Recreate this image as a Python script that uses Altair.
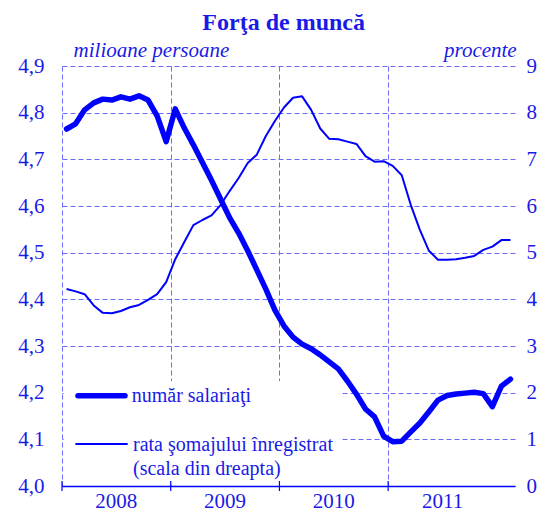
import altair as alt
import pandas as pd

# ---- data ----
years = ["2008", "2009", "2010", "2011"]
# număr salariaţi (milioane persoane), monthly Jan 2008 ...
employees = [4.765, 4.776, 4.806, 4.821, 4.829, 4.827, 4.834, 4.829, 4.836, 4.827, 4.793, 4.738,
             4.808, 4.767, 4.731, 4.693, 4.655, 4.615, 4.575, 4.542, 4.504, 4.463, 4.422, 4.377,
             4.343, 4.319, 4.304, 4.294, 4.281, 4.266, 4.251, 4.225, 4.197, 4.165, 4.148, 4.107,
             4.095, 4.096, 4.116, 4.135, 4.159, 4.184, 4.194, 4.197, 4.199, 4.201, 4.198, 4.170,
             4.214, 4.229]
# rata şomajului înregistrat (procente)
unemployment = [4.22, 4.17, 4.11, 3.87, 3.71, 3.70, 3.75, 3.83, 3.88, 3.99, 4.11, 4.37,
                4.86, 5.23, 5.59, 5.70, 5.80, 6.02, 6.32, 6.60, 6.92, 7.10, 7.50, 7.82,
                8.11, 8.32, 8.35, 8.06, 7.66, 7.44, 7.43, 7.38, 7.33, 7.07, 6.95, 6.96,
                6.86, 6.66, 6.02, 5.49, 5.04, 4.85, 4.85, 4.86, 4.89, 4.93, 5.06, 5.13,
                5.27, 5.27]
left_ticks = [4.0, 4.1, 4.2, 4.3, 4.4, 4.5, 4.6, 4.7, 4.8, 4.9]
right_ticks = [0, 1, 2, 3, 4, 5, 6, 7, 8, 9]

n = len(employees)
df = pd.DataFrame({"t": list(range(n)), "emp": employees, "unemp": unemployment})
bounds_vals = [12 * k - 0.5 for k in range(len(years))]
bounds = pd.DataFrame({"b": bounds_vals})
ydf = pd.DataFrame({"year": years, "c": [12 * k + 5.5 for k in range(len(years))]})
one = pd.DataFrame({"a": [0]})

W, H = 453, 420
BLUE = "#0000FF"
TXT = "#1a1ae6"
GRID = "#6a6aff"
FONT = "Liberation Serif"

xscale = alt.Scale(domain=[-0.5, n - 0.5], nice=False, zero=False)

xaxis = alt.Axis(values=bounds_vals, grid=True, gridColor=GRID, gridDash=[5, 3], gridWidth=1,
                 labels=False, ticks=False, domain=True, domainColor=BLUE, domainWidth=1.5,
                 title=None)
yleft = alt.Axis(orient="left", values=left_ticks, grid=True, gridColor=GRID, gridDash=[5, 3],
                 gridWidth=1, labelExpr="replace(format(datum.value, '.1f'), '.', ',')",
                 labelFont=FONT, labelFontSize=21, labelColor=TXT, labelPadding=18,
                 ticks=False, tickSize=0, domain=False, title=None)
yright = alt.Axis(orient="right", values=right_ticks, grid=False, format="d",
                  labelFont=FONT, labelFontSize=21, labelColor=TXT, labelPadding=11,
                  labelAlign="left", ticks=False, tickSize=0, domain=False, title=None)

base = alt.Chart(df)

thick = base.mark_line(color=BLUE, strokeWidth=5.5, strokeCap="round", strokeJoin="round").encode(
    x=alt.X("t:Q", scale=xscale, axis=xaxis),
    y=alt.Y("emp:Q", scale=alt.Scale(domain=[4.0, 4.9], nice=False, zero=False), axis=yleft),
)
thin = base.mark_line(color=BLUE, strokeWidth=2, strokeJoin="round").encode(
    x=alt.X("t:Q", scale=xscale, axis=xaxis),
    y=alt.Y("unemp:Q", scale=alt.Scale(domain=[0, 9], nice=False, zero=False), axis=yright),
)

box = alt.Chart(one).mark_rect(color="white").encode(
    x=alt.value(1.7), x2=alt.value(277.7), y=alt.value(315), y2=alt.value(419))

ticks = alt.Chart(bounds).mark_rule(color=BLUE, strokeWidth=1.2).encode(
    x=alt.X("b:Q", scale=xscale, axis=xaxis), y=alt.value(H - 5), y2=alt.value(H + 5))

year_text = alt.Chart(ydf).mark_text(font=FONT, fontSize=21, color=TXT, baseline="middle",
                                     align="center").encode(
    x=alt.X("c:Q", scale=xscale, axis=xaxis), y=alt.value(H + 16), text="year:N")

leg1 = alt.Chart(one).mark_rule(color=BLUE, strokeWidth=5.5, strokeCap="round").encode(
    x=alt.value(16), x2=alt.value(63), y=alt.value(329.7))
leg2 = alt.Chart(one).mark_rule(color=BLUE, strokeWidth=2).encode(
    x=alt.value(13.4), x2=alt.value(65.7), y=alt.value(378))

def txt(s, x, y, size=20, align="left", **kw):
    return alt.Chart(one).mark_text(text=s, font=FONT, fontSize=size, color=TXT, align=align,
                                    baseline="middle", **kw).encode(x=alt.value(x), y=alt.value(y))

lt1 = txt("număr salariaţi", 69.7, 329.7)
lt2 = txt("rata şomajului înregistrat", 71, 379)
lt3 = txt("(scala din dreapta)", 71, 403)

title = txt("Forţa de muncă", 221.7, -43.4, size=24, align="center", fontWeight="bold")
sub_l = txt("milioane persoane", 11.6, -15.5, size=21, fontStyle="italic")
sub_r = txt("procente", 454.7, -15.5, size=21, align="right", fontStyle="italic")

chart = alt.layer(box, thick, thin, ticks, year_text, leg1, leg2, lt1, lt2, lt3,
                  title, sub_l, sub_r).resolve_scale(y="independent").properties(
    width=W, height=H,
    autosize=alt.AutoSizeParams(type="none"),
    padding={"left": 54, "top": 58, "right": 22, "bottom": 26},
).configure_view(stroke=None)

chart.save("out.html", embed_options={"renderer": "svg", "actions": False})
